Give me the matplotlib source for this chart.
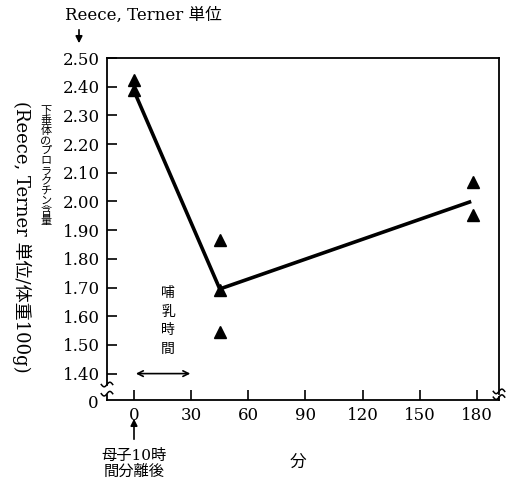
import numpy as np
import matplotlib
matplotlib.use("Agg")
import matplotlib.pyplot as plt

# data
minutes_a = [0, 0, 45, 45, 45, 178, 178]
prl_a = [2.425, 2.39, 1.865, 1.69, 1.545, 2.068, 1.952]
line_x = [0, 45, 177]
line_y = [2.385, 1.695, 2.00]

x_ticks = [0, 30, 60, 90, 120, 150, 180]
y_ticks = [1.40, 1.50, 1.60, 1.70, 1.80, 1.90, 2.00, 2.10, 2.20, 2.30, 2.40, 2.50]
y_zero = 1.308  # where the broken axis puts "0"

W, H = 507, 491
plt.rcParams['font.family'] = ['DejaVu Serif', 'Noto Sans CJK JP']


def px(x, y):
    return x / W, 1 - y / H


fig = plt.figure(figsize=(W / 100, H / 100), dpi=100)
ax = fig.add_axes([107 / W, 1 - 400 / H, (499 - 107) / W, (400 - 58) / H])

ax.plot(line_x, line_y, color='black', lw=2.6, solid_capstyle='butt', zorder=2)
ax.plot(minutes_a, prl_a, linestyle='none', marker='^', ms=8, color='black', zorder=3)

ax.set_xlim(-14.2, 191.6)
ax.set_ylim(y_zero, 2.50)
ax.set_xticks(x_ticks)
ax.set_xticklabels([str(v) for v in x_ticks], fontsize=12)
ax.set_yticks(y_ticks)
ax.set_yticklabels([f"{v:.2f}" for v in y_ticks], fontsize=12)
ax.tick_params(direction='in', length=7, width=1.2, pad=5)
for s in ax.spines.values():
    s.set_linewidth(1.3)

# axis breaks on left and right spines
ax.spines['left'].set_bounds(1.362, 2.50)
ax.spines['right'].set_bounds(1.33, 2.50)
ax.plot([-14.2, -14.2], [y_zero, 1.325], color='black', lw=1.3, clip_on=False)
ax.plot([191.6, 191.6], [y_zero, 1.318], color='black', lw=1.3, clip_on=False)
t = np.linspace(-1, 1, 20)
for xc, ys in [(-14.2, (1.362, 1.330)), (191.6, (1.338, 1.318))]:
    for yc in ys:
        ax.plot(xc + 3 * t, yc + 0.008 * np.sin(np.pi * t), color='black', lw=1.1, clip_on=False)
fig.text(*px(93, 403), "0", fontsize=12, ha='center', va='center')

# suckling period arrow
ax.annotate('', xy=(-0.5, 1.40), xytext=(31, 1.40),
            arrowprops=dict(arrowstyle='<->', lw=1.2, color='black'))
fig.text(*px(168, 321), "\n".join("哺乳時間"), fontsize=10, linespacing=1.4,
         ha='center', va='center', multialignment='center')

# top unit label
fig.text(*px(65, 15), "Reece, Terner 単位", fontsize=12, ha='left', va='center')
ax.annotate('', xy=px(79, 46), xytext=px(79, 27), xycoords='figure fraction',
            annotation_clip=False,
            arrowprops=dict(arrowstyle='-|>', lw=1.2, color='black', mutation_scale=10))

# y labels
fig.text(*px(22, 237), "(Reece, Terner 単位/体重100g)", fontsize=13, rotation=-90,
         ha='center', va='center')
fig.text(*px(46, 166), "\n".join("下垂体のプロラクチン含量"), fontsize=8, linespacing=1.0,
         ha='center', va='center', multialignment='center')

# below x axis
ax.annotate('', xy=px(134, 416), xytext=px(134, 442), xycoords='figure fraction',
            annotation_clip=False,
            arrowprops=dict(arrowstyle='-|>', lw=1.2, color='black', mutation_scale=10))
fig.text(*px(134, 464), "母子10時\n間分離後", fontsize=11, linespacing=1.1,
         ha='center', va='center')
fig.text(*px(298, 462), "分", fontsize=12, ha='center', va='center')

fig.savefig("out.png", dpi=100)
